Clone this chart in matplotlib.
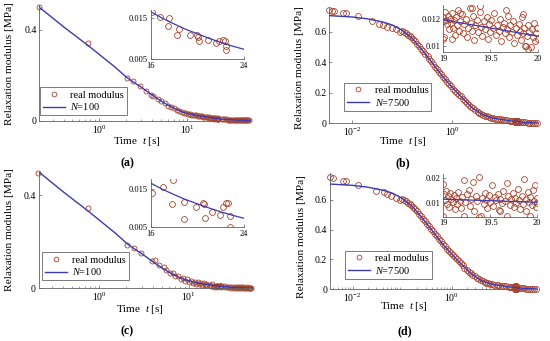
import matplotlib
matplotlib.use('Agg')
import matplotlib.pyplot as plt
from matplotlib.ticker import FixedLocator, LogLocator, NullLocator, NullFormatter

plt.rcParams['font.family'] = ['Liberation Serif', 'DejaVu Serif']
plt.rcParams['mathtext.fontset'] = 'custom'
plt.rcParams['mathtext.rm'] = 'Liberation Serif'
plt.rcParams['mathtext.it'] = 'Liberation Serif:italic'
plt.rcParams['mathtext.bf'] = 'Liberation Serif:bold'

# ---------------- data ----------------
# model curve N=100 (panels a, c)
t_model_100 = [0.211, 0.4, 0.75, 1.0, 1.5, 2.07, 2.5, 3.0, 4.0, 5.0, 6.0, 8.0, 9.0, 10.0,
               11.0, 12.0, 13.0, 14.0, 15.0, 16.0, 17.0, 18.0, 19.0, 20.0, 21.0, 22.0,
               23.0, 24.0, 27.0, 30.0, 35.0, 40.0, 46.0, 51.9]
G_model_100 = [0.500, 0.413, 0.332, 0.293, 0.238, 0.190, 0.168, 0.148, 0.113, 0.088, 0.069,
               0.045, 0.037, 0.032, 0.028, 0.025, 0.022, 0.020, 0.018, 0.0166, 0.0150,
               0.0136, 0.0123, 0.0112, 0.0101, 0.0091, 0.0082, 0.0074, 0.0058, 0.0045,
               0.0031, 0.0022, 0.0015, 0.0011]

# panel (a) measured points
t_a = [0.21, 0.75, 2.07, 2.45, 2.9, 3.4, 3.9, 4.1, 4.6, 5.1, 5.6, 6.1, 6.6, 7.1, 7.6, 8.1,
       8.6, 9.1, 9.6, 10.1, 10.6, 11.1, 11.6, 12.1, 12.6, 13.1, 13.6, 14.1, 14.6, 15.1,
       15.6, 16.1, 16.8, 17.5, 17.6, 18.3, 18.4, 19.4, 20.0, 20.1, 20.2, 20.9, 21.6, 21.9,
       22.2, 22.4, 22.5, 22.5, 24.5, 25.5, 26.5, 27.5, 28.5, 29.5, 30.5, 31.5, 32.5, 33.5,
       34.5, 35.5, 36.5, 37.5, 38.5, 39.5, 40.5, 41.5, 42.5, 43.5, 44.5, 45.5, 46.5, 47.5,
       48.5, 49.5]
G_a = [0.500, 0.342, 0.188, 0.173, 0.152, 0.131, 0.114, 0.110, 0.097, 0.086, 0.077, 0.067,
       0.061, 0.055, 0.049, 0.044, 0.040, 0.036, 0.034, 0.031, 0.030, 0.027, 0.026, 0.024,
       0.023, 0.022, 0.021, 0.020, 0.019, 0.018, 0.017, 0.0165, 0.0152, 0.0131, 0.0150,
       0.0110, 0.0123, 0.0110, 0.0110, 0.0103, 0.0094, 0.0097, 0.0089, 0.0095, 0.0097,
       0.0095, 0.0083, 0.0072, 0.0072, 0.0065, 0.0060, 0.0055, 0.0050, 0.0047, 0.0043,
       0.0040, 0.0036, 0.0034, 0.0031, 0.0029, 0.0027, 0.0025, 0.0023, 0.0022, 0.0020,
       0.0019, 0.0017, 0.0016, 0.0015, 0.0014, 0.0013, 0.0013, 0.0012, 0.0011]

# panel (c) measured points (noisier)
t_c = [0.21, 0.75, 2.07, 2.45, 2.9, 3.9, 4.2, 4.6, 5.3, 5.6, 6.1, 6.6, 7.1, 7.6, 8.1, 8.6,
       9.1, 9.6, 10.1, 10.6, 11.1, 11.6, 12.1, 12.6, 13.1, 13.6, 14.1, 14.6, 15.1, 15.6,
       16.1, 17.1, 17.96, 17.85, 18.9, 18.86, 19.9, 20.5, 20.6, 20.7, 21.3, 22.0, 22.2,
       22.5, 22.7, 22.8, 22.8, 24.5, 25.5, 26.5, 27.5, 28.5, 29.5, 30.5, 31.5, 32.5, 33.5,
       34.5, 35.5, 36.5, 37.5, 38.5, 39.5, 40.5, 41.5, 42.5, 43.5, 44.5, 45.5, 46.5, 47.5,
       48.5, 49.5]
G_c = [0.496, 0.343, 0.186, 0.174, 0.150, 0.117, 0.121, 0.099, 0.090, 0.080, 0.064, 0.066,
       0.052, 0.054, 0.041, 0.046, 0.033, 0.038, 0.028, 0.033, 0.024, 0.029, 0.020, 0.026,
       0.019, 0.023, 0.016, 0.021, 0.015, 0.019, 0.014, 0.0155, 0.0174, 0.0112, 0.0117,
       0.0071, 0.0102, 0.0113, 0.0112, 0.0075, 0.0091, 0.0082, 0.0104, 0.0113, 0.0113,
       0.0080, 0.0052, 0.0095, 0.0050, 0.0075, 0.0035, 0.0065, 0.0030, 0.0055, 0.0020,
       0.0050, 0.0015, 0.0045, 0.0010, 0.0040, 0.0005, 0.0035, 0.0010, 0.0040, 0.0000,
       0.0030, 0.0005, 0.0035, 0.0000, 0.0025, 0.0010, 0.0020, 0.0005]

# model curve N=7500 (panels b, d)
t_model_b = [0.00347, 0.01, 0.02, 0.04, 0.063, 0.1, 0.16, 0.25, 0.4, 0.63, 1.0, 1.6, 2.5,
             4.0, 6.3, 10.0, 14.0, 19.0, 19.5, 20.0, 30.0, 52.5]
G_model_b = [0.706, 0.697, 0.685, 0.665, 0.645, 0.610, 0.555, 0.480, 0.395, 0.310, 0.235,
             0.165, 0.102, 0.058, 0.034, 0.024, 0.017, 0.0119, 0.0113, 0.0107, 0.005, 0.002]
t_model_d = [0.00347, 0.01, 0.02, 0.04, 0.063, 0.1, 0.16, 0.25, 0.4, 0.63, 1.0, 1.6, 2.5,
             4.0, 6.3, 10.0, 14.0, 19.0, 19.5, 20.0, 30.0, 52.5]
G_model_d = [0.706, 0.697, 0.685, 0.665, 0.645, 0.610, 0.555, 0.480, 0.395, 0.310, 0.235,
             0.165, 0.102, 0.058, 0.034, 0.024, 0.016, 0.0116, 0.0110, 0.0104, 0.005, 0.002]

# early (sparse) points of panels b and d
t_b_early = [0.0035, 0.0039, 0.0044, 0.0064, 0.0075, 0.0128, 0.0245, 0.034, 0.042, 0.050,
             0.061, 0.074, 0.089]
G_b_early = [0.743, 0.739, 0.737, 0.725, 0.721, 0.704, 0.673, 0.651, 0.645, 0.634, 0.625,
             0.616, 0.601]
t_d_early = [0.0035, 0.0040, 0.0064, 0.0072, 0.0130, 0.030, 0.042, 0.050, 0.060, 0.075, 0.089]
G_d_early = [0.752, 0.745, 0.729, 0.727, 0.700, 0.662, 0.651, 0.640, 0.628, 0.612, 0.598]

# dense part of the measured curve (same in b and d at this scale)
t_dense = [0.10, 0.11, 0.12, 0.13, 0.14, 0.15, 0.165, 0.18, 0.20, 0.22, 0.24, 0.26, 0.29,
           0.32, 0.35, 0.38, 0.42, 0.46, 0.50, 0.55, 0.60, 0.66, 0.72, 0.79, 0.87, 0.95,
           1.05, 1.15, 1.26, 1.38, 1.50, 1.65, 1.80, 2.0, 2.2, 2.4, 2.6, 2.9, 3.2, 3.5, 3.8,
           4.2, 4.6, 5.0, 5.5, 6.0, 6.6, 7.2, 8.0, 8.7, 9.5, 10.5, 11.5, 12.5, 14.0, 15.0,
           16.5, 18.0, 20.0, 22.0, 24.0, 26.0, 29.0, 32.0, 35.0, 38.0, 42.0, 46.0, 50.0]
G_dense = [0.608, 0.598, 0.590, 0.580, 0.572, 0.565, 0.551, 0.540, 0.522, 0.506, 0.490,
           0.474, 0.456, 0.438, 0.422, 0.406, 0.388, 0.372, 0.356, 0.338, 0.322, 0.303,
           0.288, 0.272, 0.256, 0.244, 0.228, 0.215, 0.200, 0.187, 0.176, 0.160, 0.146,
           0.131, 0.118, 0.107, 0.098, 0.086, 0.076, 0.068, 0.062, 0.055, 0.050, 0.045,
           0.041, 0.036, 0.033, 0.030, 0.028, 0.026, 0.025, 0.023, 0.021, 0.019, 0.017,
           0.016, 0.014, 0.0125, 0.011, 0.009, 0.008, 0.007, 0.0055, 0.0047, 0.004, 0.0033,
           0.0028, 0.0024, 0.002]

# inset points panel b (19 s .. 20 s)
t_ib = [19.00, 19.00, 19.01, 19.01, 19.02, 19.03, 19.04, 19.05, 19.06, 19.07, 19.08, 19.09,
        19.09, 19.10, 19.11, 19.12, 19.13, 19.15, 19.16, 19.17, 19.18, 19.18, 19.20, 19.21,
        19.22, 19.24, 19.25, 19.26, 19.28, 19.29, 19.30, 19.30, 19.32, 19.33, 19.34, 19.36,
        19.37, 19.39, 19.39, 19.40, 19.41, 19.43, 19.44, 19.46, 19.47, 19.48, 19.50, 19.51,
        19.53, 19.54, 19.56, 19.57, 19.59, 19.60, 19.61, 19.63, 19.64, 19.66, 19.67, 19.68,
        19.69, 19.70, 19.71, 19.73, 19.74, 19.75, 19.77, 19.78, 19.80, 19.81, 19.82, 19.84,
        19.85, 19.85, 19.86, 19.87, 19.88, 19.89, 19.90, 19.90, 19.91, 19.93, 19.94, 19.95,
        19.96, 19.97, 19.98, 19.99, 20.00]
G_ib = [0.0121, 0.0105, 0.0118, 0.0106, 0.0125, 0.0119, 0.0116, 0.0122, 0.0112, 0.0120,
        0.0117, 0.0124, 0.0105, 0.0113, 0.0119, 0.0108, 0.0121, 0.0115, 0.0126, 0.0111,
        0.0118, 0.0124, 0.0123, 0.0109, 0.0116, 0.0120, 0.0106, 0.0113, 0.0128, 0.0117,
        0.0111, 0.0128, 0.0122, 0.0104, 0.0115, 0.0119, 0.0110, 0.0125, 0.0129, 0.0114,
        0.0107, 0.0118, 0.0112, 0.0121, 0.0105, 0.0116, 0.0110, 0.0119, 0.0113, 0.0124,
        0.0108, 0.0115, 0.0111, 0.0120, 0.0103, 0.0114, 0.0117, 0.0109, 0.0126, 0.0112,
        0.0122, 0.0106, 0.0115, 0.0110, 0.0118, 0.0102, 0.0113, 0.0108, 0.0116, 0.0111,
        0.0104, 0.0121, 0.0109, 0.0123, 0.0113, 0.00995, 0.0100, 0.0107, 0.0115, 0.00975,
        0.0110, 0.0099, 0.0112, 0.0106, 0.0117, 0.0103, 0.0109, 0.0113, 0.0105]

# inset points panel d (19 s .. 20 s)
t_id = [19.00, 19.00, 19.01, 19.02, 19.03, 19.04, 19.05, 19.06, 19.07, 19.08, 19.10, 19.11,
        19.12, 19.14, 19.15, 19.16, 19.18, 19.19, 19.20, 19.22, 19.22, 19.23, 19.25, 19.27,
        19.28, 19.30, 19.32, 19.33, 19.35, 19.36, 19.38, 19.38, 19.40, 19.41, 19.43, 19.44,
        19.46, 19.47, 19.49, 19.50, 19.52, 19.53, 19.55, 19.56, 19.58, 19.59, 19.61, 19.61,
        19.63, 19.64, 19.66, 19.68, 19.68, 19.69, 19.71, 19.72, 19.74, 19.75, 19.77, 19.78,
        19.80, 19.81, 19.82, 19.84, 19.85, 19.86, 19.88, 19.88, 19.90, 19.91, 19.92, 19.93,
        19.95, 19.96, 19.97, 19.98, 19.99, 20.00, 20.00]
G_id = [0.0177, 0.0047, 0.0135, 0.0112, 0.0150, 0.0098, 0.0128, 0.0086, 0.0140, 0.0118,
        0.0105, 0.0132, 0.0075, 0.0122, 0.0095, 0.0145, 0.0110, 0.0082, 0.0126, 0.0191,
        0.0047, 0.0103, 0.0137, 0.0151, 0.0090, 0.0118, 0.0183, 0.0068, 0.0128, 0.0108,
        0.0204, 0.0043, 0.0050, 0.0121, 0.0096, 0.0142, 0.0113, 0.0080, 0.0131, 0.0104,
        0.0171, 0.0090, 0.0124, 0.0112, 0.0136, 0.0072, 0.0067, 0.0118, 0.0100, 0.0148,
        0.0109, 0.0180, 0.0047, 0.0127, 0.0093, 0.0115, 0.0139, 0.0084, 0.0121, 0.0102,
        0.0158, 0.0111, 0.0077, 0.0130, 0.0097, 0.0196, 0.0067, 0.0117, 0.0143, 0.0106,
        0.0050, 0.0125, 0.0091, 0.0152, 0.0110, 0.0171, 0.0086, 0.0120, 0.0101]

label_pts = 'real modulus'
label_100 = '$N$=100'
label_7500 = '$N$=7500'

# ---------------- drawing ----------------
W, H = 550, 341
fig = plt.figure(figsize=(5.5, 3.41), dpi=100)
fig.patch.set_facecolor('white')


def rect(l, t, r, b):
    return [l / W, 1 - b / H, (r - l) / W, (b - t) / H]


MK = '#a8452e'
LN = '#3a3ab4'
SP = '#606060'
MEW = 0.6


def style(ax, fs):
    for s in ['top', 'right']:
        ax.spines[s].set_visible(False)
    for s in ['left', 'bottom']:
        ax.spines[s].set_color(SP)
        ax.spines[s].set_linewidth(0.6)
    ax.tick_params(which='major', direction='in', length=2.5, width=0.5, color=SP,
                   labelsize=fs, pad=2)
    ax.tick_params(which='minor', direction='in', length=1.5, width=0.4, color=SP)
    ax.patch.set_alpha(0)


def main_panel(r, t_pts, G_pts, t_line, G_line, xlim, ylim, xt, yt, ytl, minor, leg_xy,
               lab, xlab_xy, ylab_xy, plab_xy, plab, ms):
    ax = fig.add_axes(rect(*r))
    ax.set_xscale('log')
    hp, = ax.plot(t_pts, G_pts, 'o', mfc='none', mec=MK, ms=ms, mew=MEW, zorder=2,
                  clip_on=False)
    hl, = ax.plot(t_line, G_line, '-', color=LN, lw=1.0, zorder=3)
    ax.set_xlim(*xlim)
    ax.set_ylim(*ylim)
    ax.xaxis.set_major_locator(FixedLocator(xt))
    if minor:
        ax.xaxis.set_minor_locator(LogLocator(base=10, subs=[2, 3, 4, 5, 6, 7, 8, 9], numticks=20))
    else:
        ax.xaxis.set_minor_locator(NullLocator())
    ax.xaxis.set_minor_formatter(NullFormatter())
    ax.set_yticks(yt)
    ax.set_yticklabels(ytl)
    style(ax, 7)
    leg = ax.legend([hp, hl], [label_pts, lab], loc='upper left',
                    bbox_to_anchor=(leg_xy[0] / W, 1 - leg_xy[1] / H),
                    bbox_transform=fig.transFigure, frameon=True, fancybox=False,
                    edgecolor='#404040', fontsize=7.5, handlelength=2.1,
                    handletextpad=0.5, borderpad=0.3, labelspacing=0.15,
                    borderaxespad=0, numpoints=1, markerscale=3.4 / ms)
    leg.get_frame().set_linewidth(0.6)
    fig.text(xlab_xy[0] / W, 1 - xlab_xy[1] / H, 'Time  $t$ [s]', ha='center',
             va='center', fontsize=8)
    fig.text(ylab_xy[0] / W, 1 - ylab_xy[1] / H, 'Relaxation modulus [MPa]', ha='center',
             va='center', rotation=90, fontsize=8.2)
    fig.text(plab_xy[0] / W, 1 - plab_xy[1] / H, plab, ha='center', va='center',
             fontsize=8.5, fontweight='bold')
    return ax


def inset(r, t_pts, G_pts, t_line, G_line, xlim, ylim, xt, xtl, yt, ytl):
    ax = fig.add_axes(rect(*r))
    ax.plot(t_pts, G_pts, 'o', mfc='none', mec=MK, ms=4.2, mew=MEW, zorder=2,
            clip_on=True)
    ax.plot(t_line, G_line, '-', color=LN, lw=0.9, zorder=3)
    ax.set_xlim(*xlim)
    ax.set_ylim(*ylim)
    ax.set_xticks(xt)
    ax.set_xticklabels(xtl)
    ax.set_yticks(yt)
    ax.set_yticklabels(ytl)
    style(ax, 6)
    ax.patch.set_alpha(1)
    ax.patch.set_facecolor('white')
    return ax


# (a)
main_panel((39.3, 5, 250.5, 120.7), t_a, G_a, t_model_100, G_model_100, (0.211, 51.9),
           (0, 0.51), [1, 10], [0, 0.4], ['0', '0.4'], True, (40, 87.3), label_100,
           (137, 141.7), (10, 64), (127, 163), '(a)', 3.6)
inset((150.7, 10, 243.5, 59), t_a, G_a, t_model_100, G_model_100, (16, 24), (0.005, 0.017),
      [16, 24], ['16', '24'], [0.005, 0.015], ['0.005', '0.015'])

# (b)
main_panel((329.3, 8, 538.3, 123.3), t_b_early + t_dense + t_ib, G_b_early + G_dense + G_ib,
           t_model_b, G_model_b, (0.00347, 52.5), (0, 0.756), [0.01, 1],
           [0, 0.2, 0.4, 0.6], ['0', '0.2', '0.4', '0.6'], False, (344.3, 82.7), label_7500,
           (403, 141.7), (300, 68), (402.5, 163), '(b)', 4.2)
inset((443.3, 5, 537.5, 52.3), t_ib, G_ib, t_model_b, G_model_b, (19, 20), (0.0095, 0.013),
      [19, 19.5, 20], ['19', '19.5', '20'], [0.01, 0.012], ['0.01', '0.012'])

# (c)
main_panel((38.5, 171.7, 253, 288.3), t_c, G_c, t_model_100, G_model_100, (0.211, 51.9),
           (0, 0.5), [1, 10], [0, 0.4], ['0', '0.4'], True, (41.7, 252.3), label_100,
           (140, 309.3), (10, 230), (126.7, 331.7), '(c)', 3.6)
inset((150.7, 179.3, 243.5, 227.3), t_c, G_c, t_model_100, G_model_100, (16, 24),
      (0.005, 0.0176), [16, 24], ['16', '24'], [0.005, 0.015], ['0.005', '0.015'])

# (d)
main_panel((330, 173.3, 537, 289.3), t_d_early + t_dense + t_id, G_d_early + G_dense + G_id,
           t_model_d, G_model_d, (0.00347, 52.5), (0, 0.778), [0.01, 1],
           [0, 0.2, 0.4, 0.6], ['0', '0.2', '0.4', '0.6'], True, (345, 250.7), label_7500,
           (404, 306.7), (301.7, 236.7), (405, 331.7), '(d)', 4.2)
inset((443.3, 174, 537, 216.7), t_id, G_id, t_model_d, G_model_d, (19, 20),
      (0.0046, 0.0217), [19, 19.5, 20], ['19', '19.5', '20'], [0.01, 0.02],
      ['0.01', '0.02'])

fig.savefig('out.png', dpi=100, facecolor='white')
